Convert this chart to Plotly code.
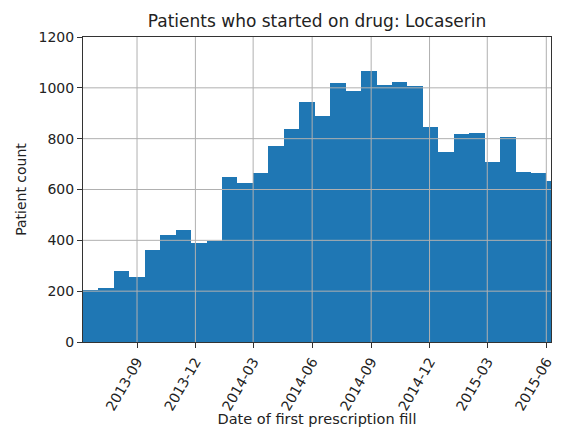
import pandas as pd
import plotly.graph_objects as go

# histogram counts per bin
counts = [206, 213, 278, 256, 361, 420, 442, 390, 396, 648,
          626, 664, 770, 840, 946, 890, 1018, 986, 1068, 1013,
          1024, 1007, 846, 747, 818, 824, 709, 808, 669, 663, 633]
bin_start = '2013-06-08 19:00'
bin_hours = 578
tick_dates = ['2013-09-01', '2013-12-01', '2014-03-01', '2014-06-01',
              '2014-09-01', '2014-12-01', '2015-03-01', '2015-06-01']
tick_text = [d[:7] for d in tick_dates]
y_ticks = [0, 200, 400, 600, 800, 1000, 1200]
x_range = ['2013-06-08 19:00', '2015-06-08 08:00']

starts = pd.date_range(start=bin_start, periods=len(counts), freq=f'{bin_hours}h')
width_ms = bin_hours * 3600 * 1000

fig = go.Figure()
fig.add_trace(go.Bar(
    x=starts,
    y=counts,
    width=[width_ms] * len(counts),
    offset=0,
    marker=dict(color='#1f77b4', line=dict(width=0)),
    showlegend=False
))

# matplotlib draws the grid over the bars, so use shapes on top
grid = dict(color='#b0b0b0', width=1)
shapes = []
for d in tick_dates:
    shapes.append(dict(type='line', xref='x', yref='paper', x0=d, x1=d, y0=0, y1=1,
                       line=grid, layer='above'))
for v in y_ticks[1:-1]:
    shapes.append(dict(type='line', xref='paper', yref='y', x0=0, x1=1, y0=v, y1=v,
                       line=grid, layer='above'))

axis_common = dict(
    showline=True, mirror=True, linecolor='#333333', linewidth=1,
    ticks='outside', ticklen=5, tickcolor='#333333',
    showgrid=False, zeroline=False, automargin=False,
    tickfont=dict(size=14, color='#222222'),
)

# page body has an 8px margin, so the figure is a bit smaller than the window
fig.update_layout(
    width=556, height=419,
    margin=dict(l=75, r=13, t=29, b=85),
    paper_bgcolor='white', plot_bgcolor='white',
    font=dict(family='DejaVu Sans', color='#222222'),
    bargap=0,
    title=dict(text='Patients who started on drug: Locaserin', x=0.5, xanchor='center',
               xref='paper', y=1, yref='container', yanchor='top', pad=dict(t=7),
               automargin=False, font=dict(size=17, color='#222222')),
    xaxis=dict(axis_common, type='date', range=x_range,
               tickvals=tick_dates, ticktext=tick_text, tickangle=-60,
               title=dict(text='Date of first prescription fill', standoff=6,
                          font=dict(size=14.5, color='#222222'))),
    yaxis=dict(axis_common, range=[0, 1200], tickvals=y_ticks,
               title=dict(text='Patient count', standoff=8,
                          font=dict(size=14, color='#222222'))),
    shapes=shapes
)

fig.write_html("out.html")
